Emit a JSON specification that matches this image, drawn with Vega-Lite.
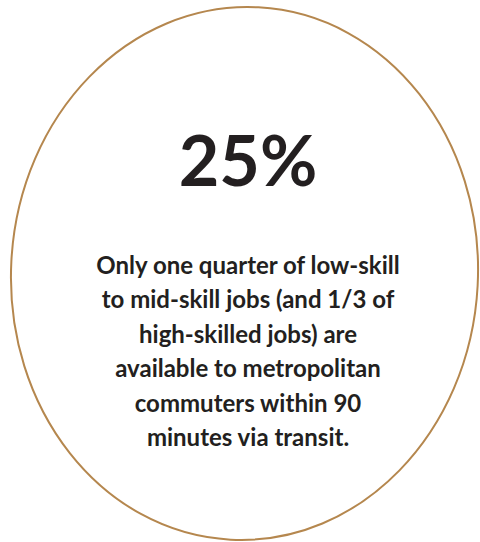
{
  "$schema": "https://vega.github.io/schema/vega-lite/v6.json",
  "width": 480,
  "height": 542,
  "autosize": {"type": "none"},
  "padding": {"left": 4.5, "top": 2.5, "right": 0, "bottom": 0},
  "background": "white",
  "config": {"view": {"stroke": null}},
  "datasets": {
    "stat": [{"value": "25%"}],
    "body": [
      {"line": 1, "text": "Only one quarter of low-skill"},
      {"line": 2, "text": "to mid-skill jobs (and 1/3 of"},
      {"line": 3, "text": "high-skilled jobs) are"},
      {"line": 4, "text": "available to metropolitan"},
      {"line": 5, "text": "commuters within 90"},
      {"line": 6, "text": "minutes via transit."}
    ]
  },
  "layer": [
    {
      "data": {"name": "stat"},
      "mark": {
        "type": "point",
        "shape": "M0,-1 A0.876,1 0 1,1 0,1 A0.876,1 0 1,1 0,-1 Z",
        "size": 284089,
        "angle": 3,
        "filled": false,
        "color": "#b5874e",
        "strokeWidth": 2,
        "opacity": 1
      },
      "encoding": {}
    },
    {
      "data": {"name": "stat"},
      "mark": {
        "type": "text",
        "font": "Lato",
        "fontWeight": "bold",
        "fontSize": 70,
        "color": "#231f20",
        "baseline": "alphabetic",
        "align": "center",
        "dx": 3.5,
        "dy": -87.5
      },
      "encoding": {"text": {"field": "value"}}
    },
    {
      "data": {"name": "body"},
      "mark": {
        "type": "text",
        "font": "Lato",
        "fontWeight": "bold",
        "fontSize": 24,
        "color": "#231f20",
        "baseline": "alphabetic",
        "align": "center",
        "dx": 3.5
      },
      "encoding": {
        "y": {"field": "line", "type": "quantitative", "scale": {"domain": [-6.893, 8.863], "reverse": true}, "axis": null},
        "text": {"field": "text"}
      }
    }
  ]
}
